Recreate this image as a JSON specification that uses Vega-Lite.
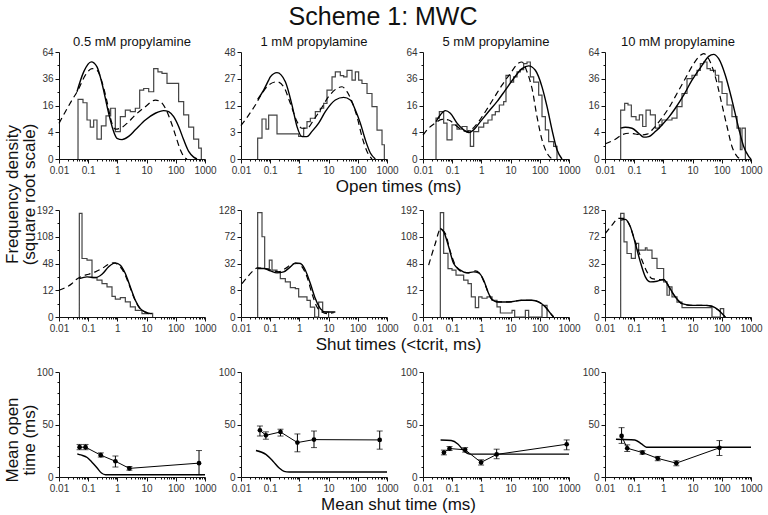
{
"$schema":"https://vega.github.io/schema/vega-lite/v6.json",
"padding":{"left":3,"top":5,"right":5,"bottom":3},
"title":{"text":"Scheme 1: MWC","fontSize":25,"anchor":"middle","offset":6},
"datasets":{
"o1h":[{"x":0.0448,"y":0},{"x":0.0448,"y":19.9},{"x":0.0664,"y":17.7},{"x":0.091,"y":8.5},{"x":0.118,"y":5.65},{"x":0.154,"y":8.5},{"x":0.2,"y":2.2},{"x":0.282,"y":6.1},{"x":0.407,"y":10.4},{"x":0.588,"y":14.4},{"x":0.849,"y":4.2},{"x":1.26,"y":10},{"x":1.87,"y":13.4},{"x":2.77,"y":12.5},{"x":4.11,"y":14.4},{"x":5.79,"y":26.5},{"x":7.94,"y":27.8},{"x":11.8,"y":25.3},{"x":17.5,"y":45.7},{"x":24.5,"y":42.5},{"x":33.7,"y":40.9},{"x":50,"y":31.9},{"x":125,"y":18.4},{"x":186,"y":10.9},{"x":276,"y":5.65},{"x":409,"y":2.2},{"x":607,"y":0.67},{"x":748,"y":0}],
"o1a":[{"x":0.0413,"y":25.3},{"x":0.07,"y":42.4},{"x":0.128,"y":52.7},{"x":0.2,"y":47.4},{"x":0.297,"y":31.9},{"x":0.502,"y":11.7},{"x":0.745,"y":4.2},{"x":0.969,"y":2.4},{"x":1.44,"y":2.1},{"x":2.43,"y":2.85},{"x":4.11,"y":4.75},{"x":9.06,"y":8.5},{"x":19.9,"y":11.7},{"x":38.4,"y":13.1},{"x":57,"y":12.5},{"x":84.5,"y":10},{"x":125,"y":5.9},{"x":186,"y":2.06},{"x":276,"y":0.32},{"x":409,"y":0.02},{"x":532,"y":0}],
"o1b":[{"x":0.01,"y":7.1},{"x":0.0165,"y":12.5},{"x":0.0279,"y":19.4},{"x":0.0448,"y":26.5},{"x":0.0798,"y":39.3},{"x":0.135,"y":45.7},{"x":0.2,"y":44},{"x":0.297,"y":33.3},{"x":0.441,"y":18.4},{"x":0.653,"y":7.1},{"x":0.849,"y":4.97},{"x":1.26,"y":5.3},{"x":2.13,"y":7.1},{"x":4.11,"y":10.85},{"x":9.06,"y":15.3},{"x":19.9,"y":19.4},{"x":29.5,"y":18.4},{"x":43.8,"y":14.4},{"x":65,"y":8.5},{"x":96.4,"y":3.27},{"x":143,"y":0.48},{"x":186,"y":0.04},{"x":242,"y":0}],
"o2h":[{"x":0.0372,"y":0},{"x":0.0372,"y":1.83},{"x":0.0524,"y":6.7},{"x":0.0718,"y":3.73},{"x":0.0886,"y":8.1},{"x":0.171,"y":2.66},{"x":0.944,"y":2.13},{"x":1.4,"y":3.98},{"x":1.82,"y":5.87},{"x":2.37,"y":6.96},{"x":3.51,"y":9.4},{"x":5.21,"y":10.8},{"x":6.78,"y":13},{"x":8.81,"y":19.9},{"x":13.1,"y":28.3},{"x":17,"y":31.8},{"x":25.2,"y":29.2},{"x":32.8,"y":28.3},{"x":42.7,"y":33},{"x":63.3,"y":26.1},{"x":82.4,"y":31.8},{"x":107,"y":26.1},{"x":139,"y":23.9},{"x":207,"y":18},{"x":306,"y":11.5},{"x":455,"y":3.5},{"x":675,"y":0.85},{"x":811,"y":0}],
"o2a":[{"x":0.0372,"y":14.9},{"x":0.0597,"y":19.9},{"x":0.0886,"y":26.1},{"x":0.101,"y":28.3},{"x":0.171,"y":31.3},{"x":0.33,"y":25},{"x":0.558,"y":12.2},{"x":0.828,"y":4.4},{"x":1.23,"y":2.1},{"x":1.82,"y":2.1},{"x":2.7,"y":3.2},{"x":4.57,"y":5.4},{"x":7.73,"y":9.4},{"x":17,"y":14.6},{"x":32.8,"y":15.9},{"x":55.5,"y":14.6},{"x":82.4,"y":10.1},{"x":122,"y":5.4},{"x":181,"y":1.55},{"x":269,"y":0.15},{"x":398,"y":0}],
"o2b":[{"x":0.01,"y":4.7},{"x":0.0183,"y":8.1},{"x":0.031,"y":12.2},{"x":0.0524,"y":18},{"x":0.0886,"y":22.9},{"x":0.171,"y":25},{"x":0.289,"y":21.9},{"x":0.489,"y":13},{"x":0.828,"y":5.9},{"x":1.23,"y":3.97},{"x":1.82,"y":3.97},{"x":3.08,"y":6.4},{"x":5.21,"y":10.1},{"x":10,"y":16.3},{"x":19.4,"y":20.9},{"x":28.8,"y":21.9},{"x":42.7,"y":19},{"x":63.3,"y":13.8},{"x":94,"y":7.5},{"x":139,"y":2.1},{"x":207,"y":0.24},{"x":306,"y":0}],
"o3h":[{"x":0.0279,"y":0},{"x":0.0279,"y":9.3},{"x":0.0363,"y":12.5},{"x":0.051,"y":7.2},{"x":0.0664,"y":2.06},{"x":0.0984,"y":6.5},{"x":0.146,"y":5},{"x":0.217,"y":5.9},{"x":0.321,"y":4.5},{"x":0.418,"y":0.9},{"x":0.543,"y":4.2},{"x":0.806,"y":5.65},{"x":1.2,"y":7.2},{"x":1.68,"y":8.5},{"x":2.31,"y":10.85},{"x":3,"y":12.5},{"x":4.11,"y":16.3},{"x":5.79,"y":18.4},{"x":6.95,"y":39},{"x":9.79,"y":33},{"x":12.7,"y":37.7},{"x":16.6,"y":42.5},{"x":21.5,"y":44.7},{"x":28,"y":50.8},{"x":36.5,"y":52.6},{"x":47.4,"y":37.7},{"x":61.7,"y":33},{"x":91.4,"y":22.8},{"x":119,"y":10},{"x":155,"y":4.75},{"x":201,"y":1.7},{"x":298,"y":0.88},{"x":388,"y":0}],
"o3a":[{"x":0.0279,"y":7.8},{"x":0.0392,"y":10.85},{"x":0.0582,"y":13.1},{"x":0.0863,"y":11.7},{"x":0.146,"y":7.2},{"x":0.247,"y":4.75},{"x":0.366,"y":3.9},{"x":0.543,"y":4.75},{"x":0.919,"y":7.8},{"x":1.77,"y":12.6},{"x":3.42,"y":18.4},{"x":6.6,"y":26.5},{"x":12.7,"y":36.2},{"x":24.5,"y":45.7},{"x":41.6,"y":48.5},{"x":70.3,"y":44},{"x":119,"y":29.1},{"x":177,"y":15.3},{"x":262,"y":4.75},{"x":388,"y":0.48},{"x":576,"y":0}],
"o3b":[{"x":0.01,"y":3.2},{"x":0.0156,"y":5.3},{"x":0.0264,"y":7.2},{"x":0.0448,"y":8.8},{"x":0.0757,"y":8.5},{"x":0.128,"y":6.5},{"x":0.217,"y":4.75},{"x":0.321,"y":4.2},{"x":0.476,"y":4.97},{"x":0.806,"y":7.8},{"x":1.36,"y":12.5},{"x":2.63,"y":20.5},{"x":5.07,"y":30.5},{"x":9.79,"y":40.9},{"x":18.9,"y":51.6},{"x":24.5,"y":52.6},{"x":36.5,"y":42.5},{"x":54.1,"y":27.8},{"x":80.2,"y":10},{"x":119,"y":2.06},{"x":177,"y":0.2},{"x":262,"y":0}],
"o4h":[{"x":0.0344,"y":0},{"x":0.0344,"y":13.4},{"x":0.0472,"y":17.3},{"x":0.0614,"y":16.3},{"x":0.0798,"y":10},{"x":0.1153,"y":8.5},{"x":0.15,"y":10.85},{"x":0.195,"y":5.9},{"x":0.254,"y":13.4},{"x":0.357,"y":10.85},{"x":0.53,"y":5.3},{"x":0.726,"y":6.5},{"x":0.896,"y":8.5},{"x":1.97,"y":9.3},{"x":2.92,"y":15.3},{"x":4.34,"y":24},{"x":6.43,"y":36.2},{"x":9.53,"y":39.2},{"x":14.2,"y":44},{"x":18.4,"y":50.8},{"x":23.9,"y":52.6},{"x":31.1,"y":45.7},{"x":40.5,"y":44},{"x":60.1,"y":39.2},{"x":78.2,"y":33.3},{"x":102,"y":24},{"x":151,"y":16.3},{"x":223,"y":10},{"x":332,"y":5.3},{"x":431,"y":0.48},{"x":492,"y":5.3},{"x":640,"y":0}],
"o4a":[{"x":0.0344,"y":5.3},{"x":0.0497,"y":5.65},{"x":0.0841,"y":5.3},{"x":0.142,"y":3.7},{"x":0.211,"y":2.67},{"x":0.313,"y":2.8},{"x":0.53,"y":4.2},{"x":0.896,"y":6.5},{"x":1.51,"y":9.7},{"x":2.56,"y":14.4},{"x":4.94,"y":22.8},{"x":9.53,"y":34.7},{"x":21,"y":49},{"x":35.5,"y":58.9},{"x":52.6,"y":61.2},{"x":78.2,"y":56.2},{"x":132,"y":39.2},{"x":223,"y":19.4},{"x":378,"y":5.3},{"x":561,"y":0.88},{"x":832,"y":0.04},{"x":1000,"y":0}],
"o4b":[{"x":0.0103,"y":1.3},{"x":0.0226,"y":2.2},{"x":0.0382,"y":3.27},{"x":0.0647,"y":3.7},{"x":0.109,"y":3.5},{"x":0.185,"y":3.27},{"x":0.274,"y":3.45},{"x":0.464,"y":5.3},{"x":0.785,"y":8.5},{"x":1.51,"y":14.4},{"x":2.92,"y":24},{"x":5.64,"y":36.2},{"x":10.9,"y":50.8},{"x":18.4,"y":60},{"x":23.9,"y":62},{"x":35.5,"y":56.2},{"x":60.1,"y":37.7},{"x":102,"y":16.3},{"x":151,"y":5.9},{"x":223,"y":0.88},{"x":332,"y":0.04},{"x":431,"y":0}],
"s1h":[{"x":0.0497,"y":0},{"x":0.0497,"y":180},{"x":0.0614,"y":57.4},{"x":0.091,"y":54.2},{"x":0.135,"y":26.1},{"x":0.2,"y":22.7},{"x":0.297,"y":18.75},{"x":0.441,"y":15.2},{"x":0.653,"y":7.2},{"x":0.849,"y":5.3},{"x":1.26,"y":6.3},{"x":1.87,"y":3.8},{"x":2.77,"y":1.7},{"x":4.11,"y":0.75},{"x":6.95,"y":0.19},{"x":11.8,"y":0.22},{"x":16.1,"y":0}],
"s1a":[{"x":0.0497,"y":24.8},{"x":0.091,"y":27},{"x":0.175,"y":26.1},{"x":0.297,"y":30.7},{"x":0.502,"y":42.2},{"x":0.849,"y":49.2},{"x":1.26,"y":45},{"x":1.87,"y":31.7},{"x":2.77,"y":15.2},{"x":4.11,"y":4.7},{"x":6.1,"y":1.17},{"x":9.06,"y":0.42},{"x":13.4,"y":0.19},{"x":15.3,"y":0.19}],
"s1b":[{"x":0.01,"y":12},{"x":0.0165,"y":14.5},{"x":0.0279,"y":18.75},{"x":0.0363,"y":22.7},{"x":0.0614,"y":27.9},{"x":0.104,"y":30.7},{"x":0.175,"y":34.2},{"x":0.297,"y":39.4},{"x":0.502,"y":46.8},{"x":0.745,"y":49.2},{"x":1.1,"y":45},{"x":1.64,"y":34.2},{"x":2.43,"y":18.75},{"x":3.61,"y":6.75},{"x":5.35,"y":1.7},{"x":7.94,"y":0.54},{"x":11.8,"y":0.19},{"x":15.3,"y":0.19}],
"s2h":[{"x":0.0372,"y":0},{"x":0.0372,"y":121.7},{"x":0.0524,"y":72},{"x":0.0647,"y":26.3},{"x":0.0933,"y":36.1},{"x":0.1153,"y":24.5},{"x":0.171,"y":22.8},{"x":0.222,"y":16.5},{"x":0.33,"y":13.8},{"x":0.489,"y":9.7},{"x":0.726,"y":9},{"x":0.944,"y":4.5},{"x":1.82,"y":3.1},{"x":2.37,"y":1.1},{"x":3.33,"y":0},{"x":4.57,"y":2.5},{"x":6.27,"y":0.28},{"x":10,"y":0}],
"s2a":[{"x":0.0372,"y":26.3},{"x":0.0597,"y":26.3},{"x":0.101,"y":23.8},{"x":0.171,"y":21.8},{"x":0.289,"y":22.8},{"x":0.489,"y":28.1},{"x":0.726,"y":32.8},{"x":1.08,"y":32},{"x":1.6,"y":24.5},{"x":2.37,"y":12.5},{"x":3.51,"y":3.78},{"x":5.21,"y":0.78},{"x":7.73,"y":0.28},{"x":11.5,"y":0.28},{"x":17,"y":0.28}],
"s2b":[{"x":0.0108,"y":12.5},{"x":0.016,"y":17.4},{"x":0.0238,"y":22.8},{"x":0.0372,"y":27},{"x":0.0597,"y":26.3},{"x":0.1153,"y":24.5},{"x":0.195,"y":22.8},{"x":0.33,"y":26.3},{"x":0.558,"y":31.2},{"x":0.828,"y":32},{"x":1.23,"y":28.1},{"x":1.82,"y":18},{"x":2.7,"y":6.1},{"x":4.01,"y":1.1},{"x":5.94,"y":0.28},{"x":8.81,"y":0.13},{"x":14.9,"y":0.2}],
"s3h":[{"x":0.0392,"y":0},{"x":0.0392,"y":182.5},{"x":0.051,"y":67.7},{"x":0.0718,"y":39.4},{"x":0.0984,"y":36.75},{"x":0.135,"y":29.3},{"x":0.247,"y":22.7},{"x":0.348,"y":18.75},{"x":0.452,"y":6.75},{"x":0.619,"y":1.5},{"x":0.806,"y":6.75},{"x":1.05,"y":5.9},{"x":1.56,"y":6.75},{"x":2.31,"y":4.7},{"x":3.42,"y":1.7},{"x":4.45,"y":0.27},{"x":11.2,"y":0.75},{"x":13.8,"y":0},{"x":32,"y":0.75},{"x":41.6,"y":0},{"x":119,"y":2.3},{"x":177,"y":0}],
"s3a":[{"x":0.0392,"y":131.7},{"x":0.051,"y":122},{"x":0.0757,"y":82.7},{"x":0.112,"y":48},{"x":0.19,"y":36.75},{"x":0.321,"y":32.7},{"x":0.543,"y":34.2},{"x":0.806,"y":32.7},{"x":1.2,"y":22.7},{"x":1.68,"y":10.5},{"x":2.31,"y":5.1},{"x":3.9,"y":3.8},{"x":8.59,"y":3.8},{"x":24.5,"y":4.7},{"x":54.1,"y":4.7},{"x":91.4,"y":3.8},{"x":155,"y":1.7},{"x":262,"y":0.05},{"x":298,"y":0}],
"s3b":[{"x":0.0156,"y":45},{"x":0.0264,"y":90.7},{"x":0.0392,"y":128.7},{"x":0.0582,"y":117},{"x":0.0863,"y":71.3},{"x":0.128,"y":45},{"x":0.217,"y":34.2},{"x":0.366,"y":32.7},{"x":0.619,"y":35.6},{"x":0.919,"y":30.7},{"x":1.36,"y":16.9},{"x":2.02,"y":6.75},{"x":3,"y":3.8},{"x":8.59,"y":3.8},{"x":24.5,"y":4.7},{"x":54.1,"y":4.7},{"x":91.4,"y":3.8},{"x":155,"y":1.7},{"x":262,"y":0.05},{"x":298,"y":0}],
"s4h":[{"x":0.0344,"y":0},{"x":0.0344,"y":120},{"x":0.0448,"y":63},{"x":0.0567,"y":45.1},{"x":0.0798,"y":38.3},{"x":0.1094,"y":60.5},{"x":0.142,"y":50},{"x":0.241,"y":53.6},{"x":0.274,"y":50},{"x":0.407,"y":38.3},{"x":0.604,"y":26.3},{"x":1.02,"y":13.8},{"x":1.33,"y":5.3},{"x":1.6,"y":10.1},{"x":1.97,"y":4.5},{"x":2.92,"y":2.5},{"x":4.34,"y":1},{"x":46.1,"y":0},{"x":89.1,"y":0.78},{"x":116,"y":0}],
"s4a":[{"x":0.0344,"y":105},{"x":0.0497,"y":106.6},{"x":0.0738,"y":91},{"x":0.1094,"y":60.5},{"x":0.162,"y":34},{"x":0.241,"y":18},{"x":0.357,"y":13.8},{"x":0.604,"y":14.3},{"x":1.02,"y":15.7},{"x":1.51,"y":10.6},{"x":2.56,"y":4.5},{"x":4.34,"y":2},{"x":9.53,"y":1.5},{"x":27.3,"y":1.5},{"x":46.1,"y":1.28},{"x":78.2,"y":0.5},{"x":116,"y":0.03},{"x":132,"y":0}],
"s4b":[{"x":0.0103,"y":78},{"x":0.0174,"y":94.5},{"x":0.0294,"y":108.8},{"x":0.0436,"y":108.8},{"x":0.0647,"y":98},{"x":0.1094,"y":63},{"x":0.185,"y":36},{"x":0.274,"y":22.8},{"x":0.407,"y":16.5},{"x":0.689,"y":15.7},{"x":1.164,"y":15.1},{"x":1.51,"y":10.6},{"x":2.56,"y":4.5},{"x":4.34,"y":2},{"x":9.53,"y":1.5},{"x":27.3,"y":1.5},{"x":46.1,"y":1.28},{"x":78.2,"y":0.5},{"x":116,"y":0.03},{"x":132,"y":0}],
"m1o":[{"x":0.0507,"y":28.4,"lo":26,"hi":31},{"x":0.0811,"y":28.4,"lo":26,"hi":31},{"x":0.27,"y":20.8,"lo":19,"hi":23},{"x":0.855,"y":15,"lo":9.5,"hi":20},{"x":2.57,"y":8.2,"lo":6.5,"hi":10},{"x":624,"y":13.2,"lo":2.2,"hi":25.2}],
"m1f":[{"x":0.0422,"y":22.1},{"x":0.0562,"y":21},{"x":0.0925,"y":18.6},{"x":0.137,"y":13.9},{"x":0.203,"y":8.5},{"x":0.285,"y":3.8},{"x":0.39,"y":2.2},{"x":1000,"y":2.2}],
"m2o":[{"x":0.0445,"y":44.5,"lo":39,"hi":48.6},{"x":0.0711,"y":39.7,"lo":36,"hi":43},{"x":0.225,"y":42.9,"lo":39,"hi":45.5},{"x":0.855,"y":32.8,"lo":24,"hi":41},{"x":3.16,"y":35.6,"lo":28,"hi":43.8},{"x":562,"y":35.3,"lo":26.5,"hi":43.8}],
"m2f":[{"x":0.0325,"y":25.2},{"x":0.0711,"y":21.5},{"x":0.127,"y":14.8},{"x":0.203,"y":8.5},{"x":0.3,"y":5.4},{"x":0.444,"y":4.7},{"x":1000,"y":4.7}],
"m3o":[{"x":0.052,"y":23.3,"lo":21.1,"hi":25.6},{"x":0.0811,"y":27.1,"lo":25.2,"hi":29},{"x":0.277,"y":25.9,"lo":23.7,"hi":28},{"x":0.975,"y":13.9,"lo":11.4,"hi":16.4},{"x":3.33,"y":21.5,"lo":17.4,"hi":26.5},{"x":832,"y":31.2,"lo":25.9,"hi":35.3}],
"m3f":[{"x":0.04,"y":35.3},{"x":0.0925,"y":34.7},{"x":0.156,"y":31.5},{"x":0.263,"y":24.3},{"x":0.39,"y":21.8},{"x":1000,"y":21.8}],
"m4o":[{"x":0.037,"y":39.1,"lo":32,"hi":47},{"x":0.0577,"y":27.4,"lo":24.3,"hi":30.6},{"x":0.192,"y":23.3,"lo":21.8,"hi":25},{"x":0.641,"y":17.7,"lo":15.5,"hi":19.6},{"x":2.77,"y":13.2,"lo":10.7,"hi":15.5},{"x":83,"y":27.8,"lo":20.5,"hi":34.7}],
"m4f":[{"x":0.0237,"y":36},{"x":0.105,"y":35.3},{"x":0.178,"y":31.5},{"x":0.263,"y":28.4},{"x":1000,"y":28.4}]
},
"spacing":14,
"vconcat":[
{"title":{"text":["Frequency density","(square root scale)"],"orient":"left","fontSize":17,"lineHeight":17,"anchor":"middle","offset":-4},
 "spacing":10,
 "vconcat":[
 {"title":{"text":"Open times (ms)","orient":"bottom","fontSize":17,"anchor":"middle","offset":4},
  "bounds":"flush","spacing":36,
  "hconcat":[
  {"width":146,"height":107,"title":{"text":"0.5 mM propylamine","fontSize":13,"offset":-2},
   "layer":[
    {"data":{"name":"o1h"},"mark":{"type":"line","interpolate":"step-after","color":"#444","strokeWidth":1.2},
     "encoding":{"x":{"field":"x","type":"quantitative","scale":{"type":"log","domain":[0.01,1000]},"axis":{"values":[0.01,0.1,1,10,100,1000],"format":"~g","title":null,"orient":"bottom"}},
      "y":{"field":"y","type":"quantitative","scale":{"type":"sqrt","domain":[0,64]},"axis":{"values":[0,4,16,36,64],"title":null,"orient":"left"}},"order":{"value":null}}},
    {"data":{"name":"o1a"},"mark":{"type":"line","interpolate":"monotone","color":"#000","strokeWidth":1.4},
     "encoding":{"x":{"field":"x","type":"quantitative","scale":{"type":"log","domain":[0.01,1000]},"axis":{"values":[0.02,0.03,0.04,0.05,0.06,0.07,0.08,0.09,0.2,0.3,0.4,0.5,0.6,0.7,0.8,0.9,2,3,4,5,6,7,8,9,20,30,40,50,60,70,80,90,200,300,400,500,600,700,800,900],"labels":false,"domain":false,"tickSize":2,"title":null,"orient":"bottom"}},
      "y":{"field":"y","type":"quantitative","scale":{"type":"sqrt","domain":[0,64]},"axis":{"values":[1,9,25,49],"labels":false,"domain":false,"tickSize":2,"title":null,"orient":"left"}}}},
    {"data":{"name":"o1b"},"mark":{"type":"line","interpolate":"monotone","color":"#000","strokeWidth":1.2,"strokeDash":[6,4]},
     "encoding":{"x":{"field":"x","type":"quantitative","scale":{"type":"log","domain":[0.01,1000]},"axis":null},
      "y":{"field":"y","type":"quantitative","scale":{"type":"sqrt","domain":[0,64]},"axis":null}}}
   ],"resolve":{"axis":{"x":"independent","y":"independent"}}},
  {"width":146,"height":107,"title":{"text":"1 mM propylamine","fontSize":13,"offset":-2},
   "layer":[
    {"data":{"name":"o2h"},"mark":{"type":"line","interpolate":"step-after","color":"#444","strokeWidth":1.2},
     "encoding":{"x":{"field":"x","type":"quantitative","scale":{"type":"log","domain":[0.01,1000]},"axis":{"values":[0.01,0.1,1,10,100,1000],"format":"~g","title":null,"orient":"bottom"}},
      "y":{"field":"y","type":"quantitative","scale":{"type":"sqrt","domain":[0,48]},"axis":{"values":[0,3,12,27,48],"title":null,"orient":"left"}},"order":{"value":null}}},
    {"data":{"name":"o2a"},"mark":{"type":"line","interpolate":"monotone","color":"#000","strokeWidth":1.4},
     "encoding":{"x":{"field":"x","type":"quantitative","scale":{"type":"log","domain":[0.01,1000]},"axis":{"values":[0.02,0.03,0.04,0.05,0.06,0.07,0.08,0.09,0.2,0.3,0.4,0.5,0.6,0.7,0.8,0.9,2,3,4,5,6,7,8,9,20,30,40,50,60,70,80,90,200,300,400,500,600,700,800,900],"labels":false,"domain":false,"tickSize":2,"title":null,"orient":"bottom"}},
      "y":{"field":"y","type":"quantitative","scale":{"type":"sqrt","domain":[0,48]},"axis":{"values":[0.75,6.75,18.75,36.75],"labels":false,"domain":false,"tickSize":2,"title":null,"orient":"left"}}}},
    {"data":{"name":"o2b"},"mark":{"type":"line","interpolate":"monotone","color":"#000","strokeWidth":1.2,"strokeDash":[6,4]},
     "encoding":{"x":{"field":"x","type":"quantitative","scale":{"type":"log","domain":[0.01,1000]},"axis":null},
      "y":{"field":"y","type":"quantitative","scale":{"type":"sqrt","domain":[0,48]},"axis":null}}}
   ],"resolve":{"axis":{"x":"independent","y":"independent"}}},
  {"width":146,"height":107,"title":{"text":"5 mM propylamine","fontSize":13,"offset":-2},
   "layer":[
    {"data":{"name":"o3h"},"mark":{"type":"line","interpolate":"step-after","color":"#444","strokeWidth":1.2},
     "encoding":{"x":{"field":"x","type":"quantitative","scale":{"type":"log","domain":[0.01,1000]},"axis":{"values":[0.01,0.1,1,10,100,1000],"format":"~g","title":null,"orient":"bottom"}},
      "y":{"field":"y","type":"quantitative","scale":{"type":"sqrt","domain":[0,64]},"axis":{"values":[0,4,16,36,64],"title":null,"orient":"left"}},"order":{"value":null}}},
    {"data":{"name":"o3a"},"mark":{"type":"line","interpolate":"monotone","color":"#000","strokeWidth":1.4},
     "encoding":{"x":{"field":"x","type":"quantitative","scale":{"type":"log","domain":[0.01,1000]},"axis":{"values":[0.02,0.03,0.04,0.05,0.06,0.07,0.08,0.09,0.2,0.3,0.4,0.5,0.6,0.7,0.8,0.9,2,3,4,5,6,7,8,9,20,30,40,50,60,70,80,90,200,300,400,500,600,700,800,900],"labels":false,"domain":false,"tickSize":2,"title":null,"orient":"bottom"}},
      "y":{"field":"y","type":"quantitative","scale":{"type":"sqrt","domain":[0,64]},"axis":{"values":[1,9,25,49],"labels":false,"domain":false,"tickSize":2,"title":null,"orient":"left"}}}},
    {"data":{"name":"o3b"},"mark":{"type":"line","interpolate":"monotone","color":"#000","strokeWidth":1.2,"strokeDash":[6,4]},
     "encoding":{"x":{"field":"x","type":"quantitative","scale":{"type":"log","domain":[0.01,1000]},"axis":null},
      "y":{"field":"y","type":"quantitative","scale":{"type":"sqrt","domain":[0,64]},"axis":null}}}
   ],"resolve":{"axis":{"x":"independent","y":"independent"}}},
  {"width":146,"height":107,"title":{"text":"10 mM propylamine","fontSize":13,"offset":-2},
   "layer":[
    {"data":{"name":"o4h"},"mark":{"type":"line","interpolate":"step-after","color":"#444","strokeWidth":1.2},
     "encoding":{"x":{"field":"x","type":"quantitative","scale":{"type":"log","domain":[0.01,1000]},"axis":{"values":[0.01,0.1,1,10,100,1000],"format":"~g","title":null,"orient":"bottom"}},
      "y":{"field":"y","type":"quantitative","scale":{"type":"sqrt","domain":[0,64]},"axis":{"values":[0,4,16,36,64],"title":null,"orient":"left"}},"order":{"value":null}}},
    {"data":{"name":"o4a"},"mark":{"type":"line","interpolate":"monotone","color":"#000","strokeWidth":1.4},
     "encoding":{"x":{"field":"x","type":"quantitative","scale":{"type":"log","domain":[0.01,1000]},"axis":{"values":[0.02,0.03,0.04,0.05,0.06,0.07,0.08,0.09,0.2,0.3,0.4,0.5,0.6,0.7,0.8,0.9,2,3,4,5,6,7,8,9,20,30,40,50,60,70,80,90,200,300,400,500,600,700,800,900],"labels":false,"domain":false,"tickSize":2,"title":null,"orient":"bottom"}},
      "y":{"field":"y","type":"quantitative","scale":{"type":"sqrt","domain":[0,64]},"axis":{"values":[1,9,25,49],"labels":false,"domain":false,"tickSize":2,"title":null,"orient":"left"}}}},
    {"data":{"name":"o4b"},"mark":{"type":"line","interpolate":"monotone","color":"#000","strokeWidth":1.2,"strokeDash":[6,4]},
     "encoding":{"x":{"field":"x","type":"quantitative","scale":{"type":"log","domain":[0.01,1000]},"axis":null},
      "y":{"field":"y","type":"quantitative","scale":{"type":"sqrt","domain":[0,64]},"axis":null}}}
   ],"resolve":{"axis":{"x":"independent","y":"independent"}}}
  ]},
 {"title":{"text":"Shut times (<tcrit, ms)","orient":"bottom","fontSize":17,"anchor":"middle","offset":4},
  "bounds":"flush","spacing":36,
  "hconcat":[
  {"width":146,"height":107,
   "layer":[
    {"data":{"name":"s1h"},"mark":{"type":"line","interpolate":"step-after","color":"#444","strokeWidth":1.2},
     "encoding":{"x":{"field":"x","type":"quantitative","scale":{"type":"log","domain":[0.01,1000]},"axis":{"values":[0.01,0.1,1,10,100,1000],"format":"~g","title":null,"orient":"bottom"}},
      "y":{"field":"y","type":"quantitative","scale":{"type":"sqrt","domain":[0,192]},"axis":{"values":[0,12,48,108,192],"title":null,"orient":"left"}},"order":{"value":null}}},
    {"data":{"name":"s1a"},"mark":{"type":"line","interpolate":"monotone","color":"#000","strokeWidth":1.4},
     "encoding":{"x":{"field":"x","type":"quantitative","scale":{"type":"log","domain":[0.01,1000]},"axis":{"values":[0.02,0.03,0.04,0.05,0.06,0.07,0.08,0.09,0.2,0.3,0.4,0.5,0.6,0.7,0.8,0.9,2,3,4,5,6,7,8,9,20,30,40,50,60,70,80,90,200,300,400,500,600,700,800,900],"labels":false,"domain":false,"tickSize":2,"title":null,"orient":"bottom"}},
      "y":{"field":"y","type":"quantitative","scale":{"type":"sqrt","domain":[0,192]},"axis":{"values":[3,27,75,147],"labels":false,"domain":false,"tickSize":2,"title":null,"orient":"left"}}}},
    {"data":{"name":"s1b"},"mark":{"type":"line","interpolate":"monotone","color":"#000","strokeWidth":1.2,"strokeDash":[6,4]},
     "encoding":{"x":{"field":"x","type":"quantitative","scale":{"type":"log","domain":[0.01,1000]},"axis":null},
      "y":{"field":"y","type":"quantitative","scale":{"type":"sqrt","domain":[0,192]},"axis":null}}}
   ],"resolve":{"axis":{"x":"independent","y":"independent"}}},
  {"width":146,"height":107,
   "layer":[
    {"data":{"name":"s2h"},"mark":{"type":"line","interpolate":"step-after","color":"#444","strokeWidth":1.2},
     "encoding":{"x":{"field":"x","type":"quantitative","scale":{"type":"log","domain":[0.01,1000]},"axis":{"values":[0.01,0.1,1,10,100,1000],"format":"~g","title":null,"orient":"bottom"}},
      "y":{"field":"y","type":"quantitative","scale":{"type":"sqrt","domain":[0,128]},"axis":{"values":[0,8,32,72,128],"title":null,"orient":"left"}},"order":{"value":null}}},
    {"data":{"name":"s2a"},"mark":{"type":"line","interpolate":"monotone","color":"#000","strokeWidth":1.4},
     "encoding":{"x":{"field":"x","type":"quantitative","scale":{"type":"log","domain":[0.01,1000]},"axis":{"values":[0.02,0.03,0.04,0.05,0.06,0.07,0.08,0.09,0.2,0.3,0.4,0.5,0.6,0.7,0.8,0.9,2,3,4,5,6,7,8,9,20,30,40,50,60,70,80,90,200,300,400,500,600,700,800,900],"labels":false,"domain":false,"tickSize":2,"title":null,"orient":"bottom"}},
      "y":{"field":"y","type":"quantitative","scale":{"type":"sqrt","domain":[0,128]},"axis":{"values":[2,18,50,98],"labels":false,"domain":false,"tickSize":2,"title":null,"orient":"left"}}}},
    {"data":{"name":"s2b"},"mark":{"type":"line","interpolate":"monotone","color":"#000","strokeWidth":1.2,"strokeDash":[6,4]},
     "encoding":{"x":{"field":"x","type":"quantitative","scale":{"type":"log","domain":[0.01,1000]},"axis":null},
      "y":{"field":"y","type":"quantitative","scale":{"type":"sqrt","domain":[0,128]},"axis":null}}}
   ],"resolve":{"axis":{"x":"independent","y":"independent"}}},
  {"width":146,"height":107,
   "layer":[
    {"data":{"name":"s3h"},"mark":{"type":"line","interpolate":"step-after","color":"#444","strokeWidth":1.2},
     "encoding":{"x":{"field":"x","type":"quantitative","scale":{"type":"log","domain":[0.01,1000]},"axis":{"values":[0.01,0.1,1,10,100,1000],"format":"~g","title":null,"orient":"bottom"}},
      "y":{"field":"y","type":"quantitative","scale":{"type":"sqrt","domain":[0,192]},"axis":{"values":[0,12,48,108,192],"title":null,"orient":"left"}},"order":{"value":null}}},
    {"data":{"name":"s3a"},"mark":{"type":"line","interpolate":"monotone","color":"#000","strokeWidth":1.4},
     "encoding":{"x":{"field":"x","type":"quantitative","scale":{"type":"log","domain":[0.01,1000]},"axis":{"values":[0.02,0.03,0.04,0.05,0.06,0.07,0.08,0.09,0.2,0.3,0.4,0.5,0.6,0.7,0.8,0.9,2,3,4,5,6,7,8,9,20,30,40,50,60,70,80,90,200,300,400,500,600,700,800,900],"labels":false,"domain":false,"tickSize":2,"title":null,"orient":"bottom"}},
      "y":{"field":"y","type":"quantitative","scale":{"type":"sqrt","domain":[0,192]},"axis":{"values":[3,27,75,147],"labels":false,"domain":false,"tickSize":2,"title":null,"orient":"left"}}}},
    {"data":{"name":"s3b"},"mark":{"type":"line","interpolate":"monotone","color":"#000","strokeWidth":1.2,"strokeDash":[6,4]},
     "encoding":{"x":{"field":"x","type":"quantitative","scale":{"type":"log","domain":[0.01,1000]},"axis":null},
      "y":{"field":"y","type":"quantitative","scale":{"type":"sqrt","domain":[0,192]},"axis":null}}}
   ],"resolve":{"axis":{"x":"independent","y":"independent"}}},
  {"width":146,"height":107,
   "layer":[
    {"data":{"name":"s4h"},"mark":{"type":"line","interpolate":"step-after","color":"#444","strokeWidth":1.2},
     "encoding":{"x":{"field":"x","type":"quantitative","scale":{"type":"log","domain":[0.01,1000]},"axis":{"values":[0.01,0.1,1,10,100,1000],"format":"~g","title":null,"orient":"bottom"}},
      "y":{"field":"y","type":"quantitative","scale":{"type":"sqrt","domain":[0,128]},"axis":{"values":[0,8,32,72,128],"title":null,"orient":"left"}},"order":{"value":null}}},
    {"data":{"name":"s4a"},"mark":{"type":"line","interpolate":"monotone","color":"#000","strokeWidth":1.4},
     "encoding":{"x":{"field":"x","type":"quantitative","scale":{"type":"log","domain":[0.01,1000]},"axis":{"values":[0.02,0.03,0.04,0.05,0.06,0.07,0.08,0.09,0.2,0.3,0.4,0.5,0.6,0.7,0.8,0.9,2,3,4,5,6,7,8,9,20,30,40,50,60,70,80,90,200,300,400,500,600,700,800,900],"labels":false,"domain":false,"tickSize":2,"title":null,"orient":"bottom"}},
      "y":{"field":"y","type":"quantitative","scale":{"type":"sqrt","domain":[0,128]},"axis":{"values":[2,18,50,98],"labels":false,"domain":false,"tickSize":2,"title":null,"orient":"left"}}}},
    {"data":{"name":"s4b"},"mark":{"type":"line","interpolate":"monotone","color":"#000","strokeWidth":1.2,"strokeDash":[6,4]},
     "encoding":{"x":{"field":"x","type":"quantitative","scale":{"type":"log","domain":[0.01,1000]},"axis":null},
      "y":{"field":"y","type":"quantitative","scale":{"type":"sqrt","domain":[0,128]},"axis":null}}}
   ],"resolve":{"axis":{"x":"independent","y":"independent"}}}
  ]}
 ]},
{"title":{"text":["Mean open","time (ms)"],"orient":"left","fontSize":17,"lineHeight":17,"anchor":"middle","offset":-4},
 "vconcat":[
 {"title":{"text":"Mean shut time (ms)","orient":"bottom","fontSize":17,"anchor":"middle","offset":4},
  "bounds":"flush","spacing":36,
  "hconcat":[
  {"width":146,"height":105,
   "layer":[
    {"data":{"name":"m1f"},"mark":{"type":"line","interpolate":"monotone","color":"#000","strokeWidth":1.4},
     "encoding":{"x":{"field":"x","type":"quantitative","scale":{"type":"log","domain":[0.01,1000]},"axis":{"values":[0.01,0.1,1,10,100,1000],"format":"~g","title":null,"orient":"bottom"}},
      "y":{"field":"y","type":"quantitative","scale":{"domain":[0,100]},"axis":{"values":[0,50,100],"title":null,"orient":"left"}}}},
    {"data":{"name":"m1o"},"mark":{"type":"line","color":"#000","strokeWidth":1},
     "encoding":{"x":{"field":"x","type":"quantitative","scale":{"type":"log","domain":[0.01,1000]},"axis":{"values":[0.02,0.03,0.04,0.05,0.06,0.07,0.08,0.09,0.2,0.3,0.4,0.5,0.6,0.7,0.8,0.9,2,3,4,5,6,7,8,9,20,30,40,50,60,70,80,90,200,300,400,500,600,700,800,900],"labels":false,"domain":false,"tickSize":2,"title":null,"orient":"bottom"}},
      "y":{"field":"y","type":"quantitative","scale":{"domain":[0,100]},"axis":{"values":[10,20,30,40,60,70,80,90],"labels":false,"domain":false,"tickSize":2,"title":null,"orient":"left"}}}},
    {"data":{"name":"m1o"},"mark":{"type":"errorbar","color":"#000","ticks":{"size":6}},
     "encoding":{"x":{"field":"x","type":"quantitative","scale":{"type":"log","domain":[0.01,1000]},"axis":null},
      "y":{"field":"lo","type":"quantitative","scale":{"domain":[0,100]},"axis":null},"y2":{"field":"hi"}}},
    {"data":{"name":"m1o"},"mark":{"type":"point","filled":true,"color":"#000","size":22,"opacity":1},
     "encoding":{"x":{"field":"x","type":"quantitative","scale":{"type":"log","domain":[0.01,1000]},"axis":null},
      "y":{"field":"y","type":"quantitative","scale":{"domain":[0,100]},"axis":null}}}
   ],"resolve":{"axis":{"x":"independent","y":"independent"}}},
  {"width":146,"height":105,
   "layer":[
    {"data":{"name":"m2f"},"mark":{"type":"line","interpolate":"monotone","color":"#000","strokeWidth":1.4},
     "encoding":{"x":{"field":"x","type":"quantitative","scale":{"type":"log","domain":[0.01,1000]},"axis":{"values":[0.01,0.1,1,10,100,1000],"format":"~g","title":null,"orient":"bottom"}},
      "y":{"field":"y","type":"quantitative","scale":{"domain":[0,100]},"axis":{"values":[0,50,100],"title":null,"orient":"left"}}}},
    {"data":{"name":"m2o"},"mark":{"type":"line","color":"#000","strokeWidth":1},
     "encoding":{"x":{"field":"x","type":"quantitative","scale":{"type":"log","domain":[0.01,1000]},"axis":{"values":[0.02,0.03,0.04,0.05,0.06,0.07,0.08,0.09,0.2,0.3,0.4,0.5,0.6,0.7,0.8,0.9,2,3,4,5,6,7,8,9,20,30,40,50,60,70,80,90,200,300,400,500,600,700,800,900],"labels":false,"domain":false,"tickSize":2,"title":null,"orient":"bottom"}},
      "y":{"field":"y","type":"quantitative","scale":{"domain":[0,100]},"axis":{"values":[10,20,30,40,60,70,80,90],"labels":false,"domain":false,"tickSize":2,"title":null,"orient":"left"}}}},
    {"data":{"name":"m2o"},"mark":{"type":"errorbar","color":"#000","ticks":{"size":6}},
     "encoding":{"x":{"field":"x","type":"quantitative","scale":{"type":"log","domain":[0.01,1000]},"axis":null},
      "y":{"field":"lo","type":"quantitative","scale":{"domain":[0,100]},"axis":null},"y2":{"field":"hi"}}},
    {"data":{"name":"m2o"},"mark":{"type":"point","filled":true,"color":"#000","size":22,"opacity":1},
     "encoding":{"x":{"field":"x","type":"quantitative","scale":{"type":"log","domain":[0.01,1000]},"axis":null},
      "y":{"field":"y","type":"quantitative","scale":{"domain":[0,100]},"axis":null}}}
   ],"resolve":{"axis":{"x":"independent","y":"independent"}}},
  {"width":146,"height":105,
   "layer":[
    {"data":{"name":"m3f"},"mark":{"type":"line","interpolate":"monotone","color":"#000","strokeWidth":1.4},
     "encoding":{"x":{"field":"x","type":"quantitative","scale":{"type":"log","domain":[0.01,1000]},"axis":{"values":[0.01,0.1,1,10,100,1000],"format":"~g","title":null,"orient":"bottom"}},
      "y":{"field":"y","type":"quantitative","scale":{"domain":[0,100]},"axis":{"values":[0,50,100],"title":null,"orient":"left"}}}},
    {"data":{"name":"m3o"},"mark":{"type":"line","color":"#000","strokeWidth":1},
     "encoding":{"x":{"field":"x","type":"quantitative","scale":{"type":"log","domain":[0.01,1000]},"axis":{"values":[0.02,0.03,0.04,0.05,0.06,0.07,0.08,0.09,0.2,0.3,0.4,0.5,0.6,0.7,0.8,0.9,2,3,4,5,6,7,8,9,20,30,40,50,60,70,80,90,200,300,400,500,600,700,800,900],"labels":false,"domain":false,"tickSize":2,"title":null,"orient":"bottom"}},
      "y":{"field":"y","type":"quantitative","scale":{"domain":[0,100]},"axis":{"values":[10,20,30,40,60,70,80,90],"labels":false,"domain":false,"tickSize":2,"title":null,"orient":"left"}}}},
    {"data":{"name":"m3o"},"mark":{"type":"errorbar","color":"#000","ticks":{"size":6}},
     "encoding":{"x":{"field":"x","type":"quantitative","scale":{"type":"log","domain":[0.01,1000]},"axis":null},
      "y":{"field":"lo","type":"quantitative","scale":{"domain":[0,100]},"axis":null},"y2":{"field":"hi"}}},
    {"data":{"name":"m3o"},"mark":{"type":"point","filled":true,"color":"#000","size":22,"opacity":1},
     "encoding":{"x":{"field":"x","type":"quantitative","scale":{"type":"log","domain":[0.01,1000]},"axis":null},
      "y":{"field":"y","type":"quantitative","scale":{"domain":[0,100]},"axis":null}}}
   ],"resolve":{"axis":{"x":"independent","y":"independent"}}},
  {"width":146,"height":105,
   "layer":[
    {"data":{"name":"m4f"},"mark":{"type":"line","interpolate":"monotone","color":"#000","strokeWidth":1.4},
     "encoding":{"x":{"field":"x","type":"quantitative","scale":{"type":"log","domain":[0.01,1000]},"axis":{"values":[0.01,0.1,1,10,100,1000],"format":"~g","title":null,"orient":"bottom"}},
      "y":{"field":"y","type":"quantitative","scale":{"domain":[0,100]},"axis":{"values":[0,50,100],"title":null,"orient":"left"}}}},
    {"data":{"name":"m4o"},"mark":{"type":"line","color":"#000","strokeWidth":1},
     "encoding":{"x":{"field":"x","type":"quantitative","scale":{"type":"log","domain":[0.01,1000]},"axis":{"values":[0.02,0.03,0.04,0.05,0.06,0.07,0.08,0.09,0.2,0.3,0.4,0.5,0.6,0.7,0.8,0.9,2,3,4,5,6,7,8,9,20,30,40,50,60,70,80,90,200,300,400,500,600,700,800,900],"labels":false,"domain":false,"tickSize":2,"title":null,"orient":"bottom"}},
      "y":{"field":"y","type":"quantitative","scale":{"domain":[0,100]},"axis":{"values":[10,20,30,40,60,70,80,90],"labels":false,"domain":false,"tickSize":2,"title":null,"orient":"left"}}}},
    {"data":{"name":"m4o"},"mark":{"type":"errorbar","color":"#000","ticks":{"size":6}},
     "encoding":{"x":{"field":"x","type":"quantitative","scale":{"type":"log","domain":[0.01,1000]},"axis":null},
      "y":{"field":"lo","type":"quantitative","scale":{"domain":[0,100]},"axis":null},"y2":{"field":"hi"}}},
    {"data":{"name":"m4o"},"mark":{"type":"point","filled":true,"color":"#000","size":22,"opacity":1},
     "encoding":{"x":{"field":"x","type":"quantitative","scale":{"type":"log","domain":[0.01,1000]},"axis":null},
      "y":{"field":"y","type":"quantitative","scale":{"domain":[0,100]},"axis":null}}}
   ],"resolve":{"axis":{"x":"independent","y":"independent"}}}
  ]}
 ]}
],
"config":{
 "font":"Liberation Sans",
 "view":{"stroke":null},
 "axis":{"grid":false,"domainColor":"#111","tickColor":"#111","labelColor":"#333","labelFontSize":10,"labelFont":"Liberation Sans","tickSize":4,"labelPadding":2},
 "axisX":{"labelFlush":false},
 "axisY":{"minExtent":24,"maxExtent":24},
 "title":{"font":"Liberation Sans","fontWeight":"normal","color":"#111"}
}
}
